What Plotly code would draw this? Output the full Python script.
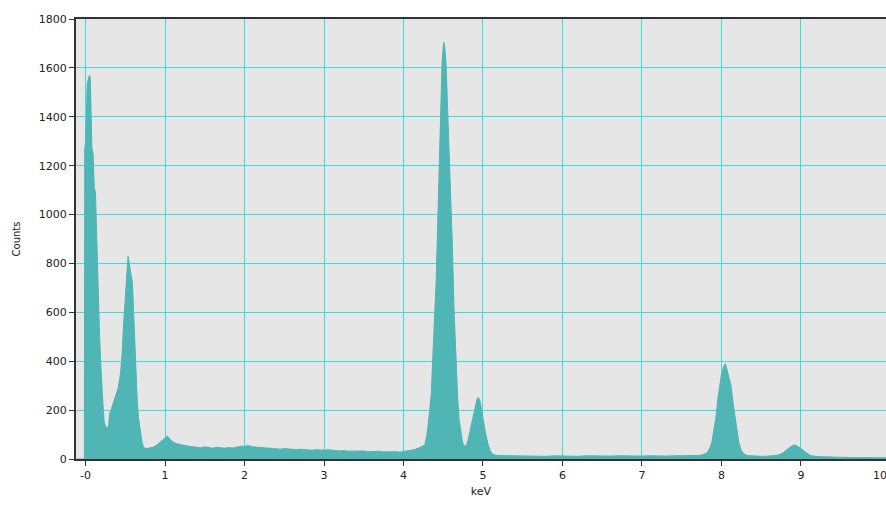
import plotly.graph_objects as go

# Energy (keV) and counts
energy = [
    -0.12, -0.015, -0.01, 0.0, 0.01, 0.02, 0.035, 0.05, 0.06, 0.07, 0.08, 0.095, 0.11, 0.125,
    0.14, 0.15, 0.16, 0.175, 0.19, 0.205, 0.22, 0.235, 0.25, 0.27, 0.29, 0.30, 0.32, 0.35,
    0.38, 0.41, 0.44, 0.46, 0.48, 0.50, 0.52, 0.535, 0.55, 0.57, 0.59, 0.605, 0.62, 0.635,
    0.65, 0.665, 0.69, 0.71, 0.73, 0.76, 0.80, 0.85, 0.90, 0.95, 0.98, 1.01, 1.03, 1.06,
    1.10, 1.15, 1.20, 1.25, 1.30, 1.35, 1.40, 1.45, 1.50, 1.55, 1.60, 1.65, 1.70, 1.75,
    1.80, 1.85, 1.90, 1.95, 2.00, 2.05, 2.10, 2.15, 2.20, 2.25, 2.30, 2.35, 2.40, 2.45,
    2.50, 2.55, 2.60, 2.65, 2.70, 2.75, 2.80, 2.85, 2.90, 2.95, 3.00, 3.05, 3.10, 3.15,
    3.20, 3.25, 3.30, 3.35, 3.40, 3.45, 3.50, 3.55, 3.60, 3.65, 3.70, 3.75, 3.80, 3.85,
    3.90, 3.95, 4.00, 4.05, 4.10, 4.15, 4.20, 4.24, 4.27, 4.30, 4.33, 4.35, 4.37, 4.39,
    4.41, 4.425, 4.44, 4.455, 4.47, 4.485, 4.50, 4.51, 4.52, 4.535, 4.55, 4.57, 4.59, 4.605,
    4.615, 4.635, 4.65, 4.665, 4.68, 4.70, 4.72, 4.745, 4.77, 4.79, 4.81, 4.84, 4.87, 4.90,
    4.925, 4.94, 4.96, 4.98, 5.00, 5.03, 5.06, 5.09, 5.12, 5.16, 5.20, 5.30, 5.40, 5.50,
    5.60, 5.70, 5.80, 5.90, 6.00, 6.10, 6.20, 6.30, 6.40, 6.50, 6.60, 6.70, 6.80, 6.90,
    7.00, 7.10, 7.20, 7.30, 7.40, 7.50, 7.60, 7.70, 7.75, 7.80, 7.83, 7.86, 7.88, 7.90,
    7.93, 7.96, 7.98, 8.00, 8.03, 8.05, 8.07, 8.09, 8.12, 8.15, 8.17, 8.20, 8.22, 8.25,
    8.28, 8.32, 8.40, 8.50, 8.60, 8.70, 8.76, 8.80, 8.84, 8.88, 8.92, 8.96, 9.00, 9.04,
    9.08, 9.12, 9.20, 9.30, 9.40, 9.50, 9.60, 9.70, 9.80, 9.90, 10.00, 10.07,
]
counts = [
    0, 0, 1270, 1290, 1390, 1530, 1555, 1570, 1560, 1420, 1270, 1250, 1110, 1090,
    900, 830, 700, 520, 400, 290, 220, 150, 135, 128, 135, 180, 200, 225,
    255, 290, 350, 430, 560, 650, 740, 830, 800, 760, 720, 600, 450, 320,
    240, 170, 110, 70, 48, 42, 45, 48, 58, 72, 82, 90, 94, 82,
    70, 62, 58, 55, 52, 50, 48, 46, 50, 47, 44, 48, 46, 44,
    47, 45, 48, 52, 52, 55, 50, 48, 46, 44, 45, 43, 42, 40,
    43, 41, 40, 38, 40, 38, 39, 36, 38, 36, 36, 38, 35, 34,
    33, 35, 32, 33, 31, 32, 33, 30, 31, 30, 32, 29, 30, 29,
    30, 28, 30, 32, 36, 40, 45, 52, 60, 110, 200, 270, 430, 560,
    720, 900, 1110, 1300, 1480, 1620, 1690, 1705, 1680, 1620, 1480, 1310, 1150, 1000,
    870, 620, 480, 380, 260, 160, 110, 65, 52, 55, 75, 120, 170, 215,
    245, 252, 240, 205, 165, 110, 65, 35, 20, 15, 14, 13, 14, 12,
    13, 12, 11, 13, 12, 12, 11, 13, 12, 11, 12, 13, 12, 11,
    12, 13, 12, 12, 13, 12, 14, 14, 16, 22, 30, 50, 70, 110,
    170, 260, 310, 345, 380, 390, 365, 340, 300, 220, 170, 100, 65, 35,
    22, 14, 12, 11, 12, 15, 22, 32, 42, 52, 58, 52, 42, 32,
    22, 14, 10, 8, 8, 7, 6, 6, 6, 5, 5, 5,
]

x_tick_vals = [0, 1, 2, 3, 4, 5, 6, 7, 8, 9, 10]
x_tick_text = ["-0", "1", "2", "3", "4", "5", "6", "7", "8", "9", "10"]
y_tick_vals = [0, 200, 400, 600, 800, 1000, 1200, 1400, 1600, 1800]

fill_col = "#4fb5b5"
grid_col = "#3cdcdc"
tick_font = dict(family="DejaVu Sans, Verdana, sans-serif", size=11, color="#222")

fig = go.Figure()
fig.add_trace(go.Scatter(
    x=energy, y=counts, mode="lines", fill="tozeroy",
    line=dict(color=fill_col, width=1), fillcolor=fill_col,
    showlegend=False, hoverinfo="x+y",
))

# Last x tick label sits at the right edge; draw it as text so it is not dropped
fig.add_annotation(
    x=x_tick_vals[-1], y=0, xref="x", yref="paper", yshift=-8,
    text=x_tick_text[-1], showarrow=False, xanchor="center", yanchor="top",
    font=tick_font,
)

fig.update_layout(
    width=886, height=506,
    margin=dict(l=76, r=0, t=19, b=47),
    paper_bgcolor="white", plot_bgcolor="#e6e6e6",
    font=tick_font,
    xaxis=dict(
        range=[-0.12, 10.07], tickvals=x_tick_vals[:-1], ticktext=x_tick_text[:-1],
        showgrid=True, gridcolor=grid_col, gridwidth=1, zeroline=False,
        showline=True, linecolor="#333", linewidth=2, mirror=True,
        ticks="outside", ticklen=5, tickcolor="#333", tickfont=tick_font,
        title=dict(text="keV", font=dict(size=11), standoff=6),
    ),
    yaxis=dict(
        range=[0, 1800], tickvals=y_tick_vals,
        showgrid=True, gridcolor=grid_col, gridwidth=1, zeroline=False,
        showline=True, linecolor="#333", linewidth=2,
        ticks="outside", ticklen=5, tickcolor="#333", tickfont=tick_font,
        title=dict(text="Counts", font=dict(size=10), standoff=16),
    ),
)

fig.write_html("out.html")
